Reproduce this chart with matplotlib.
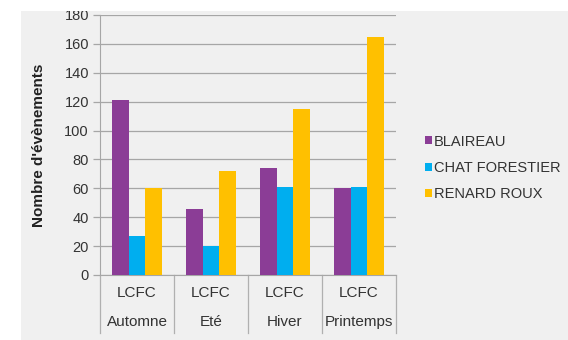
import matplotlib
matplotlib.use("Agg")
import matplotlib.pyplot as plt
from matplotlib.patches import Patch, Rectangle
import matplotlib.transforms as mtransforms
import numpy as np

plt.rcParams['font.family'] = ['Liberation Sans', 'DejaVu Sans']

groups = ["LCFC", "LCFC", "LCFC", "LCFC"]
seasons = ["Automne", "Eté", "Hiver", "Printemps"]
series_names = ["BLAIREAU", "CHAT FORESTIER", "RENARD ROUX"]
blaireau = [121, 46, 74, 60]
chat = [27, 20, 61, 61]
renard = [60, 72, 115, 165]
yticks = [0, 20, 40, 60, 80, 100, 120, 140, 160, 180]
colors = ["#8b3d96", "#00aeef", "#ffc000"]

W, H = 568, 340
fig = plt.figure(figsize=(W / 100, H / 100), dpi=100)
fig.patch.set_facecolor("#f0f0f0")

ax = fig.add_axes([100 / W, 1 - 275 / H, 296 / W, 260 / H])
ax.set_facecolor("#f0f0f0")

x = np.arange(len(seasons))
bw = 0.223
for i, (vals, name) in enumerate(zip([blaireau, chat, renard], series_names)):
    ax.bar(x + (i - 1) * bw, vals, width=bw, color=colors[i], label=name, zorder=3)

ax.set_xlim(-0.5, 3.5)
ax.set_ylim(0, 180)
ax.set_yticks(yticks)
ax.set_yticklabels([str(t) for t in yticks], fontsize=10.5, color="#333333")
ax.yaxis.grid(True, color="#a6a6a6", linewidth=0.9, zorder=0)
ax.tick_params(axis="y", length=5, color="#a6a6a6", width=0.9, pad=3)
ax.set_xticks([])
for s in ["top", "right"]:
    ax.spines[s].set_visible(False)
ax.spines["left"].set_color("#a6a6a6")
ax.spines["bottom"].set_color("#a6a6a6")

ax.set_ylabel("Nombre d'évènements", fontsize=11, fontweight="bold", color="#222222")
ax.yaxis.set_label_coords(-0.182, 0.5)

trans = mtransforms.blended_transform_factory(ax.transData, ax.transAxes)
for b in np.arange(-0.5, 4.0, 1.0):
    ax.plot([b, b], [0, -0.223], transform=trans, color="#b0b0b0", linewidth=0.9, clip_on=False)
for xi, g, s in zip(x, groups, seasons):
    ax.text(xi, -0.069, g, transform=trans, ha="center", va="center", fontsize=11, color="#333333")
    ax.text(xi, -0.181, s, transform=trans, ha="center", va="center", fontsize=11, color="#333333")

handles = [Patch(facecolor=c, edgecolor="none") for c in colors]
fig.legend(handles, series_names, loc="center left", bbox_to_anchor=(0.736, 1 - 168 / H),
           frameon=False, fontsize=10.5, handlelength=0.45, handleheight=0.45,
           handletextpad=0.15, labelspacing=0.85, borderpad=0, labelcolor="#333333")

# white margins of the screenshot
fig.patches.append(Rectangle((0, 1 - 11 / H), 1, 11 / H, transform=fig.transFigure,
                             facecolor="white", edgecolor="none", zorder=10))
fig.patches.append(Rectangle((0, 0), 21 / W, 1, transform=fig.transFigure,
                             facecolor="white", edgecolor="none", zorder=10))

fig.savefig("out.png", dpi=100, facecolor=fig.get_facecolor())
